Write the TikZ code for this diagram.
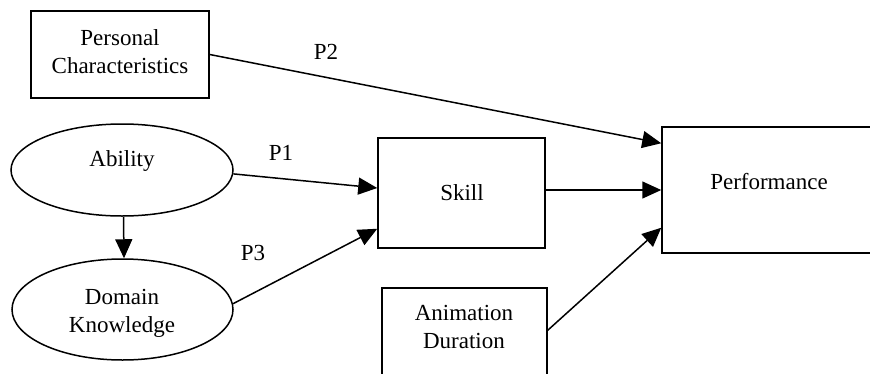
\documentclass[tikz,border=0pt]{standalone}
\usepackage{fontspec}
\setmainfont{Liberation Serif}
\usetikzlibrary{shapes.geometric,arrows.meta}
\begin{document}
\begin{tikzpicture}[x=1pt,y=-1pt,
  every node/.style={font=\fontsize{23}{28}\selectfont},
  box/.style={draw, line width=1.5pt, inner sep=0pt, rectangle},
  ell/.style={draw, ellipse, line width=1.5pt, inner sep=0pt},
  txt/.style={anchor=base, align=center, inner sep=0pt},
  arr/.style={line width=1.5pt, -{Triangle[length=19pt,width=17pt]}}]
\useasboundingbox (0,0) rectangle (870,373);
\clip (0,0) rectangle (870,373);
% shapes
\node[box, minimum width=178pt, minimum height=87pt] (pc) at (120,54.5) {};
\node[box, minimum width=167pt, minimum height=110pt] (sk) at (461.5,193) {};
\node[box, minimum width=216pt, minimum height=126pt] (perf) at (770,190) {};
\node[box, minimum width=165pt, minimum height=112pt] (ad) at (464.5,344) {};
\node[ell, minimum width=222pt, minimum height=92pt] (ab) at (122,170) {};
\node[ell, minimum width=221pt, minimum height=101pt] (dk) at (122.5,309.5) {};
% texts (base anchor = baseline of the last line)
\node[txt] (pcT) at (120,73) {Personal\\Characteristics};
\node[txt] (p2) at (326,59) {P2};
\node[txt] (abT) at (122,166.7) {Ability};
\node[txt] (p1) at (281,160.7) {P1};
\node[txt] (skT) at (462,200) {Skill};
\node[txt] (pfT) at (769,189) {Performance};
\node[txt] (p3) at (253,260) {P3};
\node[txt] (dkT) at (122,332) {Domain\\Knowledge};
\node[txt] (adT) at (464,348) {Animation\\Duration};
% connectors
\draw[arr] (pc.east) -- ([yshift=-17pt]perf.north west);
\draw[arr] (ab.-2) -- ([yshift=5pt]sk.west);
\draw[arr] ([xshift=1.5pt]ab.south) -- ([xshift=1.5pt]dk.north);
\draw[arr] (dk.3) -- ([yshift=20pt]sk.south west);
\coordinate (s1) at ([yshift=3pt]sk.east);
\draw[arr] (s1) -- (s1 -| perf.west);
\draw[arr] ([yshift=-43pt]ad.north east) -- ([yshift=26pt]perf.south west);
\end{tikzpicture}
\end{document}
